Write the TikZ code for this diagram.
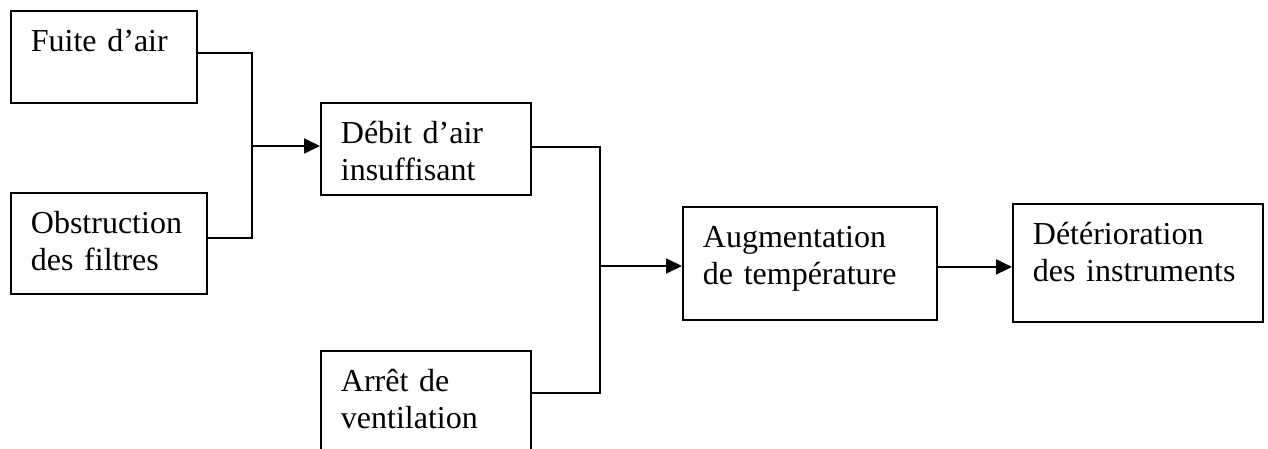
\documentclass[tikz,border=0pt]{standalone}
\usepackage{fontspec}
\setmainfont{Liberation Serif}
\usepackage{tikz}
\usetikzlibrary{arrows.meta}

\tikzset{
  blk/.style={draw, line width=1.8pt, anchor=north west, inner xsep=20pt, inner ysep=0pt,
    align=left, text height=41pt, font=\fontsize{32}{37}\selectfont},
  lnk/.style={line width=1.8pt},
  >={Triangle[length=16pt,width=15pt]}
}

\begin{document}
\begin{tikzpicture}[x=1pt,y=-1pt]
		\useasboundingbox (0,0) rectangle (1268,448);
		\node[blk, text width=146pt, text depth=51pt] (fuite) at (10,10) {Fuite d'air};
		\node[blk, text width=156pt, text depth=60pt] (obstr) at (10,192) {Obstruction\\des filtres};
		\node[blk, text width=170pt, text depth=51pt] (debit) at (320,102) {Débit d'air\\insuffisant};
		\node[blk, text width=170pt, text depth=64pt] (arret) at (320,350) {Arrêt de\\ventilation};
		\node[blk, text width=214pt, text depth=72pt] (augm) at (682,206) {Augmentation\\de température};
		\node[blk, text width=210pt, text depth=77pt] (deter) at (1012,203) {Détérioration\\des instruments};
		%
		\coordinate (j1) at (252,146);
		\coordinate (j2) at (600,266);
		\coordinate (j3) at ([yshift=-3.5pt]augm.east);
		%
		\draw[lnk] ([yshift=4pt]fuite.east) -| (j1) |- ([yshift=5.5pt]obstr.east);
		\draw[lnk] ([yshift=2pt]debit.east) -| (j2) |- ([yshift=10.5pt]arret.east);
		\draw[lnk,->] (j1) -- (j1 -| debit.west);
		\draw[lnk,->] (j2) -- (j2 -| augm.west);
		\draw[lnk,->] (j3) -- (j3 -| deter.west);
\end{tikzpicture}
\end{document}
